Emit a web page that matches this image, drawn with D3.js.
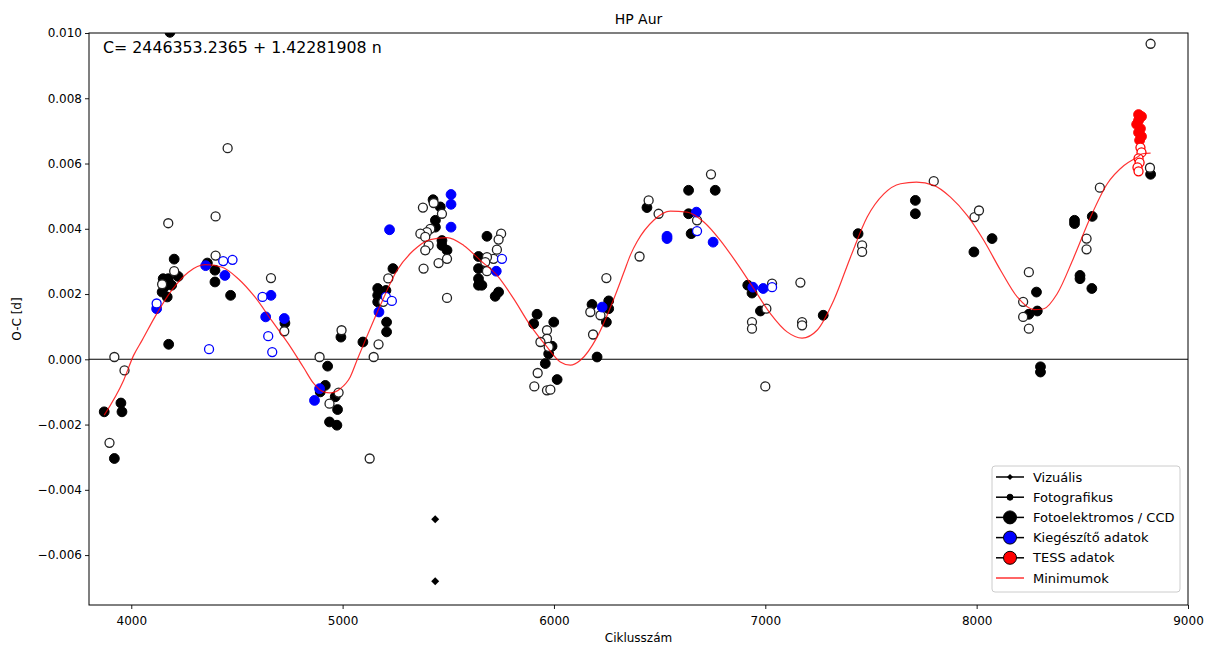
<!DOCTYPE html>
<html>
<head>
<meta charset="utf-8">
<script src="https://cdn.jsdelivr.net/npm/d3@7"></script>
<style>
  body { margin: 0; background: #fff; }
  text { font-family: "DejaVu Sans", sans-serif; fill: #000; }
</style>
</head>
<body>
<div class="chart"></div>
<script>
// HP Aur O-C diagram

// Fotoelektromos / CCD, primary minima (filled black)
var ccdPrim = [
  [3872, -0.00161], [3951, -0.00134], [3956, -0.00161], [3920, -0.00304],
  [4183, 0.01002], [4203, 0.00307], [4360, 0.00295], [4396, 0.00273],
  [4396, 0.00237], [4470, 0.00196], [4151, 0.00247], [4175, 0.00247],
  [4156, 0.00221], [4191, 0.00227], [4222, 0.00254], [4170, 0.00191],
  [4146, 0.00206], [4177, 0.00046], [4727, 0.00111], [4929, -0.00021],
  [4992, 0.00068], [5096, 0.00053], [5166, 0.00217], [5166, 0.00196],
  [5166, 0.00176], [5208, 0.00114], [5208, 0.00084], [5238, 0.00278],
  [5205, 0.00211], [4918, -0.00080], [4894, -0.00100], [4965, -0.00115],
  [4976, -0.00154], [4938, -0.00192], [4973, -0.00202],
  [5428, 0.00489], [5462, 0.00467], [5439, 0.00426], [5439, 0.00405],
  [5470, 0.00364], [5470, 0.00349], [5494, 0.00334],
  [5683, 0.00377], [5643, 0.00315], [5643, 0.00278], [5643, 0.00247],
  [5643, 0.00227], [5659, 0.00227], [5722, 0.00193], [5738, 0.00206],
  [5920, 0.00138], [5904, 0.00109], [5999, 0.00114], [5991, 0.00040],
  [5975, 0.00017], [5959, -0.00013], [6015, -0.00062],
  [6180, 0.00168], [6259, 0.00179], [6259, 0.00155], [6248, 0.00114], [6204, 0.00007],
  [6440, 0.00465], [6637, 0.00518], [6763, 0.00518], [6637, 0.00446], [6649, 0.00385],
  [6917, 0.00227], [6937, 0.00203], [6977, 0.00148], [7274, 0.00135],
  [7439, 0.00385], [7710, 0.00487], [7710, 0.00446],
  [7987, 0.00329], [8073, 0.00370], [8283, 0.00206], [8247, 0.00138],
  [8287, 0.00148], [8302, -0.00023], [8302, -0.00039], [8463, 0.00426],
  [8463, 0.00416], [8489, 0.00257], [8489, 0.00247], [8545, 0.00217],
  [8547, 0.00438], [8823, 0.00567]
];

// Fotoelektromos / CCD, secondary minima (open black)
var ccdSec = [
  [3897, -0.00256], [3920, 0.00007], [3968, -0.00034], [4456, 0.00647],
  [4175, 0.00417], [4399, 0.00438], [4203, 0.00270], [4399, 0.00318],
  [4146, 0.00230], [4661, 0.00249], [4724, 0.00086], [4891, 0.00007],
  [4995, 0.00089], [4981, -0.00102], [4938, -0.00136], [5128, -0.00304],
  [5147, 0.00007], [5170, 0.00046], [5216, 0.00248], [5192, 0.00176],
  [5380, 0.00465], [5431, 0.00479], [5470, 0.00446], [5415, 0.00400],
  [5399, 0.00390], [5368, 0.00385], [5391, 0.00375], [5407, 0.00349],
  [5391, 0.00334], [5494, 0.00308], [5454, 0.00295], [5383, 0.00278],
  [5494, 0.00188],
  [5750, 0.00385], [5738, 0.00367], [5730, 0.00336], [5714, 0.00308],
  [5683, 0.00313], [5675, 0.00298], [5683, 0.00270],
  [5967, 0.00089], [5967, 0.00063], [5936, 0.00053], [5975, 0.00038],
  [5923, -0.00042], [5907, -0.00083], [5967, -0.00095], [5983, -0.00093],
  [6248, 0.00249], [6172, 0.00145], [6220, 0.00135], [6185, 0.00076],
  [6405, 0.00315], [6448, 0.00487], [6495, 0.00446], [6743, 0.00567], [6677, 0.00426],
  [7032, 0.00232], [7005, 0.00155], [6937, 0.00114], [6937, 0.00094], [7000, -0.00083],
  [7166, 0.00235], [7174, 0.00114], [7174, 0.00104], [7458, 0.00349], [7458, 0.00329],
  [7797, 0.00546], [7990, 0.00436], [8011, 0.00456], [8247, 0.00267],
  [8220, 0.00176], [8220, 0.00130], [8247, 0.00094], [8520, 0.00370],
  [8520, 0.00337], [8583, 0.00526], [8820, 0.00587], [8823, 0.00967]
];

// Kiegészítő adatok
var kiegPrim = [
  [4352, 0.00287], [4443, 0.00257], [4120, 0.00155], [4661, 0.00196],
  [4636, 0.00130], [4724, 0.00125], [5222, 0.00397], [5172, 0.00145],
  [5513, 0.00505], [5513, 0.00475], [5513, 0.00405], [5727, 0.00270],
  [6228, 0.00160], [6535, 0.00377], [6535, 0.00370], [6674, 0.00451],
  [6753, 0.00359], [6941, 0.00221], [6990, 0.00217], [4891, -0.00090],
  [4867, -0.00126]
];
var kiegSec = [
  [4435, 0.00301], [4479, 0.00305], [4120, 0.00171], [4368, 0.00031],
  [4621, 0.00191], [4648, 0.00071], [4667, 0.00022], [5205, 0.00191],
  [5233, 0.00179], [5754, 0.00308], [6677, 0.00393], [7032, 0.00221]
];

// TESS adatok
var tessPrim = [
  [8766, 0.00750], [8780, 0.00744], [8766, 0.00732], [8757, 0.00720],
  [8775, 0.00707], [8766, 0.00695], [8780, 0.00683], [8771, 0.00671]
];
var tessSec = [
  [8775, 0.00649], [8780, 0.00634], [8766, 0.00616], [8771, 0.00603],
  [8761, 0.00588], [8766, 0.00576]
];

// Vizuális
var vizualis = [[5438, -0.00490], [5438, -0.00680]];

// Minimumok (fitted curve)
var minimumok = [
  [3872, -0.00171], [3964, -0.00064], [4011, 0.00012], [4051, 0.00058],
  [4112, 0.00130], [4191, 0.00211], [4270, 0.00267], [4349, 0.00290],
  [4427, 0.00283], [4506, 0.00247], [4585, 0.00191], [4664, 0.00119],
  [4743, 0.00048], [4816, -0.00026], [4863, -0.00074], [4910, -0.00100],
  [4942, -0.00103], [4989, -0.00090], [5036, -0.00054], [5068, -0.00003],
  [5107, 0.00058], [5178, 0.00165], [5257, 0.00272], [5336, 0.00334],
  [5415, 0.00367], [5494, 0.00373], [5573, 0.00349], [5652, 0.00303],
  [5731, 0.00257], [5809, 0.00186], [5888, 0.00104], [5967, 0.00038],
  [6030, -0.00008], [6078, -0.00018], [6125, -0.00003], [6204, 0.00068],
  [6283, 0.00185], [6330, 0.00265], [6362, 0.00320], [6393, 0.00360],
  [6472, 0.00426], [6551, 0.00454], [6630, 0.00451], [6709, 0.00421],
  [6788, 0.00364], [6867, 0.00293], [6945, 0.00217], [7024, 0.00140],
  [7103, 0.00084], [7174, 0.00065], [7245, 0.00089], [7324, 0.00181],
  [7403, 0.00313], [7482, 0.00436], [7561, 0.00507], [7640, 0.00538],
  [7715, 0.00543], [7797, 0.00533], [7876, 0.00497], [7955, 0.00441],
  [8034, 0.00364], [8113, 0.00273], [8192, 0.00191], [8271, 0.00152],
  [8318, 0.00155], [8381, 0.00201], [8460, 0.00313], [8539, 0.00436],
  [8618, 0.00538], [8697, 0.00594], [8761, 0.00620], [8784, 0.00630],
  [8823, 0.00632]
];

var xTicks = [4000, 5000, 6000, 7000, 8000, 9000];
var yTicks = [-0.006, -0.004, -0.002, 0.000, 0.002, 0.004, 0.006, 0.008, 0.010];

var legendItems = [
  {label: "Vizuális", type: "diamond", color: "black", size: 3},
  {label: "Fotografikus", type: "circle", color: "black", size: 3},
  {label: "Fotoelektromos / CCD", type: "circle", color: "black", size: 6.5},
  {label: "Kiegészítő adatok", type: "circle", color: "blue", size: 6.5},
  {label: "TESS adatok", type: "circle", color: "red", size: 6.5},
  {label: "Minimumok", type: "line", color: "red", size: 0}
];

var svgWidth = 1213;
var svgHeight = 646;

var margin = {
  top: 33,
  right: 25,
  bottom: 41,
  left: 89
};

var width = svgWidth - margin.left - margin.right;
var height = svgHeight - margin.top - margin.bottom;

var svg = d3.select(".chart")
  .append("svg")
  .attr("width", svgWidth)
  .attr("height", svgHeight);

var chartGroup = svg.append("g")
  .attr("transform", `translate(${margin.left}, ${margin.top})`);

var xScale = d3.scaleLinear()
  .domain([3800, 9000])
  .range([0, width]);

var yScale = d3.scaleLinear()
  .domain([-0.00753, 0.0100])
  .range([height, 0]);

// clip markers to the axes box like matplotlib does
svg.append("defs").append("clipPath")
  .attr("id", "plotClip")
  .append("rect")
  .attr("width", width)
  .attr("height", height);

// axes
var bottomAxis = d3.axisBottom(xScale)
  .tickValues(xTicks)
  .tickFormat(d3.format("d"))
  .tickSizeOuter(0)
  .tickSize(4);

var leftAxis = d3.axisLeft(yScale)
  .tickValues(yTicks)
  .tickFormat(d3.format(".3f"))
  .tickSizeOuter(0)
  .tickSize(4);

var xAxis = chartGroup.append("g")
  .attr("transform", `translate(0, ${height})`)
  .call(bottomAxis);

var yAxis = chartGroup.append("g")
  .call(leftAxis);

[xAxis, yAxis].forEach(function (ax) {
  ax.select(".domain").remove();
  ax.selectAll("text").style("font-size", "12px").attr("fill", "#000");
  ax.selectAll("line").attr("stroke", "#000").attr("stroke-width", 0.9);
});
xAxis.selectAll("text").attr("dy", "1.05em");

var plot = chartGroup.append("g")
  .attr("clip-path", "url(#plotClip)");

// zero line
plot.append("line")
  .attr("x1", 0)
  .attr("x2", width)
  .attr("y1", yScale(0))
  .attr("y2", yScale(0))
  .attr("stroke", "#000")
  .attr("stroke-width", 1.1);

// helper for circle groups
function drawCircles(data, fill, stroke, r, sw) {
  plot.append("g")
    .selectAll("circle")
    .data(data)
    .enter()
    .append("circle")
    .attr("cx", d => xScale(d[0]))
    .attr("cy", d => yScale(d[1]))
    .attr("r", r)
    .attr("fill", fill)
    .attr("stroke", stroke)
    .attr("stroke-width", sw);
}

drawCircles(ccdPrim, "#000", "#000", 4.9, 1);
drawCircles(ccdSec, "#fff", "#222", 4.5, 1.3);
drawCircles(kiegPrim, "blue", "blue", 4.9, 1);
drawCircles(kiegSec, "#fff", "blue", 4.5, 1.3);
drawCircles(tessPrim, "red", "red", 4.9, 1);
drawCircles(tessSec, "#fff", "red", 4.5, 1.3);

// vizuális diamonds
plot.append("g")
  .selectAll("path")
  .data(vizualis)
  .enter()
  .append("path")
  .attr("d", "M0,-4L4,0L0,4L-4,0Z")
  .attr("transform", d => `translate(${xScale(d[0])}, ${yScale(d[1])})`)
  .attr("fill", "#000");

// fitted curve
var line = d3.line()
  .x(d => xScale(d[0]))
  .y(d => yScale(d[1]))
  .curve(d3.curveMonotoneX);

plot.append("path")
  .datum(minimumok)
  .attr("d", line)
  .attr("fill", "none")
  .attr("stroke", "red")
  .attr("stroke-opacity", 0.8)
  .attr("stroke-width", 1.2);

// frame
chartGroup.append("rect")
  .attr("width", width)
  .attr("height", height)
  .attr("fill", "none")
  .attr("stroke", "#000")
  .attr("stroke-width", 1);

// formula text
chartGroup.append("text")
  .attr("x", 14)
  .attr("y", 20)
  .style("font-size", "15.8px")
  .attr("fill", "#222")
  .text("C= 2446353.2365 + 1.42281908 n");

// title and axis labels
svg.append("text")
  .attr("x", margin.left + width / 2)
  .attr("y", 24)
  .attr("text-anchor", "middle")
  .style("font-size", "14px")
  .text("HP Aur");

svg.append("text")
  .attr("x", margin.left + width / 2)
  .attr("y", 642)
  .attr("text-anchor", "middle")
  .style("font-size", "12px")
  .text("Ciklusszám");

svg.append("text")
  .attr("transform", `translate(21, ${margin.top + height / 2}) rotate(-90)`)
  .attr("text-anchor", "middle")
  .style("font-size", "12px")
  .text("O-C [d]");

// legend
var legend = svg.append("g")
  .attr("transform", "translate(992, 466)");

legend.append("rect")
  .attr("width", 188)
  .attr("height", 126)
  .attr("rx", 3)
  .attr("fill", "#fff")
  .attr("fill-opacity", 0.85)
  .attr("stroke", "#ccc");

var entries = legend.selectAll(".entry")
  .data(legendItems)
  .enter()
  .append("g")
  .attr("transform", (d, i) => `translate(0, ${11 + i * 20.2})`);

entries.append("line")
  .attr("x1", 4)
  .attr("x2", 32)
  .attr("stroke", d => d.type == "line" ? "red" : "#000")
  .attr("stroke-opacity", d => d.type == "line" ? 0.8 : 1)
  .attr("stroke-width", 1.5);

entries.filter(d => d.type == "circle")
  .append("circle")
  .attr("cx", 18)
  .attr("r", d => d.size)
  .attr("fill", d => d.color)
  .attr("stroke", "#000")
  .attr("stroke-width", 1);

entries.filter(d => d.type == "diamond")
  .append("path")
  .attr("d", d => `M18,${-d.size}L${18 + d.size},0L18,${d.size}L${18 - d.size},0Z`)
  .attr("fill", "#000");

entries.append("text")
  .attr("x", 41)
  .attr("dy", "0.36em")
  .style("font-size", "13px")
  .text(d => d.label);
</script>
</body>
</html>
